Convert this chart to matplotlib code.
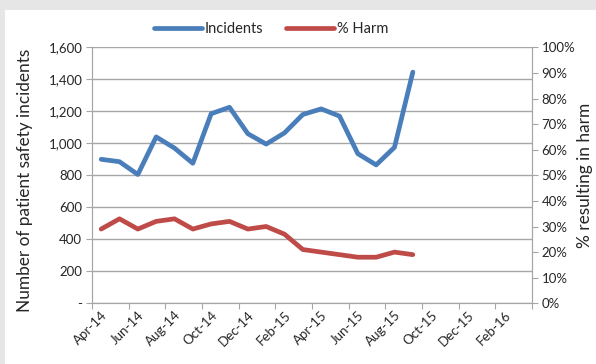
import matplotlib.pyplot as plt
from matplotlib.patches import Rectangle
from matplotlib.ticker import FixedLocator, FuncFormatter, PercentFormatter

# monthly figures, Apr-14 .. Sep-15
months = ['Apr-14', 'May-14', 'Jun-14', 'Jul-14', 'Aug-14', 'Sep-14', 'Oct-14', 'Nov-14',
          'Dec-14', 'Jan-15', 'Feb-15', 'Mar-15', 'Apr-15', 'May-15', 'Jun-15', 'Jul-15',
          'Aug-15', 'Sep-15', 'Oct-15', 'Nov-15', 'Dec-15', 'Jan-16', 'Feb-16', 'Mar-16']
incidents = [900, 885, 805, 1040, 970, 875, 1185, 1225, 1060, 995, 1065, 1180,
             1215, 1170, 935, 865, 975, 1445]
pct_harm = [29, 33, 29, 32, 33, 29, 31, 32, 29, 30, 27, 21, 20, 19, 18, 18, 20, 19]

plt.rcParams['font.family'] = ['Lato', 'DejaVu Sans']
txt = '#262626'
grid_c = '#a6a6a6'
blue = '#4a7ebb'
red = '#be4b48'

fig = plt.figure(figsize=(5.96, 3.64), dpi=100)
fig.patch.set_facecolor('#e6e6e6')
fig.add_artist(Rectangle((5 / 596, 0), 1, 354 / 364, transform=fig.transFigure,
                         facecolor='white', edgecolor='none', zorder=-5))

ax = fig.add_axes([92 / 596, 1 - 303.3 / 364, 440 / 596, 256 / 364])
ax.set_facecolor('none')
ax2 = ax.twinx()

x = list(range(len(incidents)))
ax.plot(x, incidents, color=blue, lw=3.4, solid_capstyle='round', solid_joinstyle='round',
        label='Incidents', zorder=3)
ax2.plot(x, pct_harm, color=red, lw=3.4, solid_capstyle='round', solid_joinstyle='round',
         label='% Harm', zorder=3)

ax.set_xlim(-0.5, len(months) - 0.5)
ax.set_ylim(0, 1600)
ax2.set_ylim(0, 100)

ax.set_yticks(range(0, 1601, 200))
ax.yaxis.set_major_formatter(FuncFormatter(lambda v, p: '-' if v == 0 else f'{int(v):,}'))
ax2.set_yticks(range(0, 101, 10))
ax2.yaxis.set_major_formatter(PercentFormatter(decimals=0))

# tick marks between months, labels every second month
ax.xaxis.set_major_locator(FixedLocator([i - 0.5 for i in range(0, len(months) + 1, 2)]))
ax.xaxis.set_major_formatter(FuncFormatter(lambda v, p: ''))
ax.xaxis.set_minor_locator(FixedLocator(list(range(0, len(months), 2))))
ax.set_xticklabels(months[::2], minor=True, rotation=45, ha='right', va='top',
                   rotation_mode='anchor', fontsize=9.5, color=txt)
ax.tick_params(axis='x', which='minor', length=0, pad=4)
ax.tick_params(axis='x', which='major', length=4, color=grid_c)
ax.tick_params(axis='y', length=4, color=grid_c, labelsize=9.5, labelcolor=txt, pad=3)
ax2.tick_params(axis='y', length=4, color=grid_c, labelsize=9.5, labelcolor=txt, pad=3)

ax.grid(axis='y', color=grid_c, lw=1)
ax.set_axisbelow(True)
for a in (ax, ax2):
    a.spines['top'].set_visible(False)
    for s in ('left', 'right', 'bottom'):
        a.spines[s].set_color(grid_c)

ax.set_ylabel('Number of patient safety incidents', fontsize=12.4, color=txt)
ax.yaxis.set_label_coords(-0.134, 0.482)
ax2.set_ylabel('% resulting in harm', fontsize=12.4, color=txt)
ax2.yaxis.set_label_coords(1.102, 0.5)

h1, l1 = ax.get_legend_handles_labels()
h2, l2 = ax2.get_legend_handles_labels()
fig.legend(h1 + h2, l1 + l2, loc='center', bbox_to_anchor=(271 / 596, 1 - 29 / 364),
           ncol=2, frameon=False, fontsize=10.5, handlelength=3.3, handletextpad=0.2,
           columnspacing=1.5, labelcolor=txt)

fig.savefig('out.png', dpi=100, facecolor=fig.get_facecolor())
